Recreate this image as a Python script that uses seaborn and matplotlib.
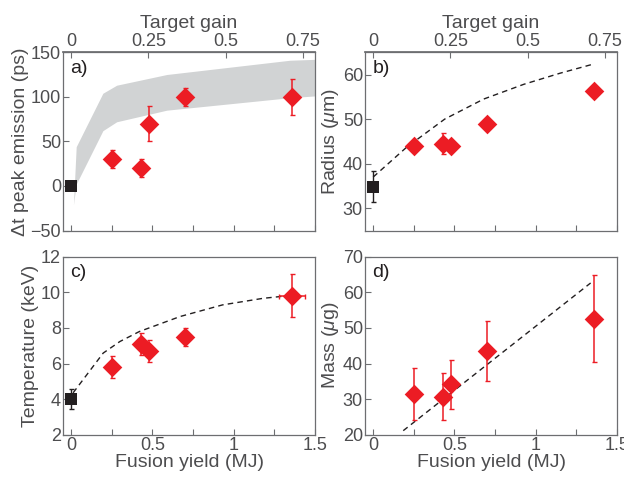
import matplotlib
matplotlib.use("Agg")
import matplotlib.pyplot as plt
import seaborn as sns
import numpy as np
from matplotlib.ticker import FixedLocator, FuncFormatter

# ------------------------------------------------------------------
# Data
# ------------------------------------------------------------------

laser_energy = 1.9  # MJ, gain = yield / laser energy

yield_mj = [0.25, 0.43, 0.48, 0.70, 1.36]

dt_peak = [30, 20, 70, 100, 100]
dt_peak_err = [10, 10, 20, 10, 20]

band_x = [0.014, 0.031, 0.195, 0.28, 0.588, 1.345, 1.5]
band_lo = [-21, 2, 62, 72, 85, 99, 101]
band_hi = [-21, 44, 104, 113, 125, 141, 142]

radius = [44.0, 44.5, 44.0, 49.0, 56.4]
radius_err = [0, 2.4, 0, 0, 0]
radius_ref, radius_ref_err = 34.8, 3.5
radius_model_x = [0, 0.206, 0.44, 0.68, 0.926, 1.15, 1.34]
radius_model_y = [37.0, 43.7, 50.0, 54.5, 57.8, 60.3, 62.2]

temp = [5.8, 7.1, 6.7, 7.5, 9.8]
temp_err = [0.6, 0.6, 0.6, 0.5, 1.2]
temp_xerr = [0, 0, 0, 0, 0.08]
temp_ref, temp_ref_err = 4.0, 0.55
temp_model_x = [0.012, 0.197, 0.30, 0.42, 0.67, 0.93, 1.18, 1.34]
temp_model_y = [4.36, 6.59, 7.24, 7.8, 8.64, 9.29, 9.66, 9.81]

mass = [31.4, 30.6, 34.2, 43.5, 52.6]
mass_lo = [24.3, 24.3, 27.3, 35.1, 40.4]
mass_hi = [38.8, 37.4, 40.9, 52.0, 64.9]
mass_model_x = [0.185, 1.337]
mass_model_y = [21.2, 62.6]

# ------------------------------------------------------------------
# Style
# ------------------------------------------------------------------

sns.set_theme(style="ticks")
plt.rcParams["font.family"] = ["Liberation Sans", "DejaVu Sans"]
plt.rcParams["mathtext.fontset"] = "custom"
plt.rcParams["mathtext.it"] = "Liberation Sans:italic"
plt.rcParams["mathtext.rm"] = "Liberation Sans"

RED = "#ec1c24"
BLACK = "#231f20"
GREY_TXT = "#4d4d4f"
SPINE = "#6d6e71"
TICK_FS = 13
LABEL_FS = 14

fig, axes = plt.subplots(2, 2, figsize=(6.24, 4.79), dpi=100)
fig.subplots_adjust(left=0.101, right=0.989, top=0.891, bottom=0.092,
                    wspace=0.198, hspace=0.146)
ax_a, ax_b = axes[0]
ax_c, ax_d = axes[1]


def style_axis(ax, ylim, yticks, label, panel, xlabel=True):
    ax.set_xlim(-0.05, 1.5)
    ax.set_ylim(*ylim)
    ax.set_yticks(yticks)
    ax.xaxis.set_major_locator(FixedLocator([0, 0.5, 1, 1.5]))
    ax.xaxis.set_minor_locator(FixedLocator([0.25, 0.75, 1.25]))
    ax.xaxis.set_major_formatter(FuncFormatter(lambda v, p: f"{v:g}"))
    ax.tick_params(which="both", direction="in", length=4, width=0.8,
                   color=SPINE, labelsize=TICK_FS, labelcolor=GREY_TXT, pad=1.5)
    for s in ax.spines.values():
        s.set_color(SPINE)
        s.set_linewidth(0.9)
        s.set_visible(True)
    ax.set_ylabel(label, fontsize=LABEL_FS, color=GREY_TXT, labelpad=1)
    if xlabel:
        ax.set_xlabel("Fusion yield (MJ)", fontsize=LABEL_FS, color=GREY_TXT,
                      labelpad=0)
    else:
        ax.set_xlabel("")
        ax.tick_params(axis="x", labelbottom=False)
    ax.text(0.03, 0.91, panel, transform=ax.transAxes, fontsize=LABEL_FS,
            color=BLACK, va="center", ha="left")


def gain_axis(ax):
    sec = ax.secondary_xaxis("top", functions=(lambda x: x / laser_energy,
                                               lambda g: g * laser_energy))
    sec.set_xticks([0, 0.25, 0.5, 0.75])
    sec.xaxis.set_major_formatter(FuncFormatter(lambda v, p: f"{v:g}"))
    sec.tick_params(direction="in", length=4, width=0.8, color=SPINE,
                    labelsize=TICK_FS, labelcolor=GREY_TXT, pad=1.5)
    sec.spines["top"].set_color(SPINE)
    sec.set_xlabel("Target gain", fontsize=LABEL_FS, color=GREY_TXT,
                   labelpad=4)


def diamonds(ax, y, yerr, xerr=None):
    ax.errorbar(yield_mj, y, yerr=yerr, xerr=xerr, fmt="none", ecolor=RED,
                elinewidth=1.1, capsize=1.8, capthick=1.0, zorder=3)
    sns.scatterplot(x=yield_mj, y=y, ax=ax, marker="D", s=100, color=RED,
                    edgecolor=RED, linewidth=0, zorder=4)


def reference(ax, y, yerr):
    if yerr:
        ax.errorbar([0], [y], yerr=[yerr], fmt="none", ecolor=BLACK,
                    elinewidth=1.0, capsize=1.8, zorder=3)
    sns.scatterplot(x=[0], y=[y], ax=ax, marker="s", s=75, color=BLACK,
                    edgecolor=BLACK, linewidth=0, zorder=5)


def model(ax, x, y):
    sns.lineplot(x=x, y=y, ax=ax, color=BLACK, linewidth=1.0, sort=False,
                 dashes=False, zorder=2).lines[-1].set_dashes((4, 3))


# a) peak emission delay
ax_a.fill_between(band_x, band_lo, band_hi, color="#d1d3d4", linewidth=0,
                  zorder=1)
diamonds(ax_a, dt_peak, dt_peak_err)
reference(ax_a, 0, None)
style_axis(ax_a, (-50, 150), [-50, 0, 50, 100, 150],
           "Δt peak emission (ps)", "a)", xlabel=False)
gain_axis(ax_a)

# b) radius
model(ax_b, radius_model_x, radius_model_y)
diamonds(ax_b, radius, radius_err)
reference(ax_b, radius_ref, radius_ref_err)
style_axis(ax_b, (25, 65), [30, 40, 50, 60], r"Radius ($\mu$m)", "b)",
           xlabel=False)
gain_axis(ax_b)

# c) temperature
model(ax_c, temp_model_x, temp_model_y)
diamonds(ax_c, temp, temp_err, temp_xerr)
reference(ax_c, temp_ref, temp_ref_err)
style_axis(ax_c, (2, 12), [2, 4, 6, 8, 10, 12], "Temperature (keV)", "c)")

# d) mass
model(ax_d, mass_model_x, mass_model_y)
mass_err = [np.subtract(mass, mass_lo), np.subtract(mass_hi, mass)]
diamonds(ax_d, mass, mass_err)
style_axis(ax_d, (20, 70), [20, 30, 40, 50, 60, 70], r"Mass ($\mu$g)", "d)")

fig.savefig("out.png", dpi=100)
